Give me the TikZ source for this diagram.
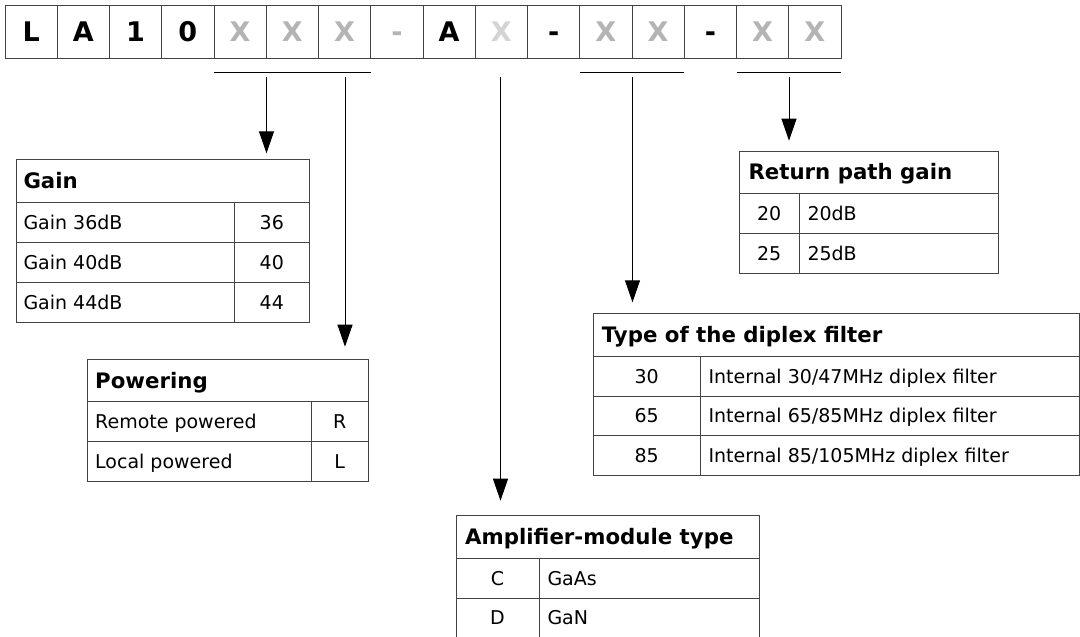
\documentclass[tikz,border=0pt]{standalone}
\usepackage{fontspec}
\setmainfont{DejaVu Sans}
\usetikzlibrary{arrows.meta}
\definecolor{xg}{HTML}{B4B4B4}
\definecolor{xl}{HTML}{D4D4D4}
\definecolor{bd}{HTML}{444444}
\begin{document}
\begin{tikzpicture}[x=1pt,y=-1pt,
  topcell/.style={draw=bd, line width=1pt, minimum width=52.25pt, minimum height=53pt, inner sep=0pt,
    text height=19.7pt, text depth=0pt, font=\fontsize{27}{30}\selectfont\bfseries},
  tbl/.style={draw=bd, line width=1pt, inner sep=0pt, anchor=north west},
  rule/.style={draw=bd, line width=1pt},
  hd/.style={anchor=base west, inner sep=0pt, font=\fontsize{21.3}{24}\selectfont\bfseries},
  bl/.style={anchor=base west, inner sep=0pt, font=\fontsize{19}{22}\selectfont},
  bc/.style={anchor=base, inner sep=0pt, font=\fontsize{19}{22}\selectfont},
  arr/.style={line width=1pt, -{Triangle[width=15pt,length=22pt]}},
  lead/.style={line width=1pt, draw=black}]
\useasboundingbox[fill=white] (0,0) rectangle (1080,637);

% top code cells
\foreach \i/\t/\c in {1/L/black, 2/A/black, 3/1/black, 4/0/black, 5/X/xg, 6/X/xg, 7/X/xg, 8/-/xg,
  9/A/black, 10/X/xl, 11/-/black, 12/X/xg, 13/X/xg, 14/-/black, 15/X/xg, 16/X/xg}
  \node[topcell, text=\c] (c\i) at ({5+52.25*(\i-0.5)}, 31.5) {\t};

% underlines
\coordinate (u1a) at (214,72.5);   \coordinate (u1b) at (370.75,72.5);
\coordinate (u2a) at (579.75,72.5); \coordinate (u2b) at (684.25,72.5);
\coordinate (u3a) at (736.5,72.5); \coordinate (u3b) at (841,72.5);
\draw[lead] (u1a) -- (u1b);
\draw[lead] (u2a) -- (u2b);
\draw[lead] (u3a) -- (u3b);

% arrow start / end points
\coordinate (gS) at (266.5,77);  \coordinate (gE) at (266.5,153.3);
\coordinate (pS) at (345,77);    \coordinate (pE) at (345,346.7);
\coordinate (aS) at (500.5,77);  \coordinate (aE) at (500.5,500.7);
\coordinate (dS) at (632.5,77);  \coordinate (dE) at (632.5,302.3);
\coordinate (rS) at (789,77);    \coordinate (rE) at (789,140.7);
\draw[arr] (gS) -- (gE);
\draw[arr] (pS) -- (pE);
\draw[arr] (aS) -- (aE);
\draw[arr] (dS) -- (dE);
\draw[arr] (rS) -- (rE);

% Gain table
\node[tbl, minimum width=293.6pt, minimum height=162.7pt] (gain) at (15.7,159.3) {};
\draw[rule] (15.7,202.3) -- (309.3,202.3);
\draw[rule] (15.7,242.3) -- (309.3,242.3);
\draw[rule] (15.7,282.3) -- (309.3,282.3);
\draw[rule] (234.3,202.3) -- (234.3,322);
\node[hd] (gainT) at (23.3,188.6) {Gain};
\node[bl] (g1) at (23.3,229.2) {Gain 36dB};
\node[bl] (g2) at (23.3,269.2) {Gain 40dB};
\node[bl] (g3) at (23.3,309.1) {Gain 44dB};
\node[bc] (g1v) at (271.8,229.2) {36};
\node[bc] (g2v) at (271.8,269.2) {40};
\node[bc] (g3v) at (271.8,309.1) {44};

% Powering table
\node[tbl, minimum width=281.6pt, minimum height=122.3pt] (pow) at (86.7,359) {};
\draw[rule] (86.7,401.7) -- (368.3,401.7);
\draw[rule] (86.7,441.7) -- (368.3,441.7);
\draw[rule] (311,401.7) -- (311,481.3);
\node[hd] (powT) at (95,388.1) {Powering};
\node[bl] (p1) at (95,428.6) {Remote powered};
\node[bl] (p2) at (95,468.4) {Local powered};
\node[bc] (p1v) at (339.65,428.6) {R};
\node[bc] (p2v) at (339.65,468.4) {L};

% Return path gain table
\node[tbl, minimum width=259pt, minimum height=122.3pt] (ret) at (739.3,151) {};
\draw[rule] (739.3,193.3) -- (998.3,193.3);
\draw[rule] (739.3,233.3) -- (998.3,233.3);
\draw[rule] (799,193.3) -- (799,273.3);
\node[hd] (retT) at (748.3,179.9) {Return path gain};
\node[bc] (r1c) at (769.15,220.2) {20};
\node[bc] (r2c) at (769.15,260.2) {25};
\node[bl] (r1) at (807.3,220.2) {20dB};
\node[bl] (r2) at (807.3,260.2) {25dB};

% Diplex filter table
\node[tbl, minimum width=485.7pt, minimum height=161.7pt] (dip) at (593.3,313.3) {};
\draw[rule] (593.3,356.7) -- (1079,356.7);
\draw[rule] (593.3,396) -- (1079,396);
\draw[rule] (593.3,435.7) -- (1079,435.7);
\draw[rule] (700,356.7) -- (700,475);
\node[hd] (dipT) at (601.7,342.8) {Type of the diplex filter};
\node[bc] (d1c) at (646.65,383.3) {30};
\node[bc] (d2c) at (646.65,422.8) {65};
\node[bc] (d3c) at (646.65,462.3) {85};
\node[bl] (d1) at (708.3,383.3) {Internal 30/47MHz diplex filter};
\node[bl] (d2) at (708.3,422.8) {Internal 65/85MHz diplex filter};
\node[bl] (d3) at (708.3,462.3) {Internal 85/105MHz diplex filter};

% Amplifier-module type table
\node[tbl, minimum width=303pt, minimum height=123.5pt] (amp) at (456,515) {};
\draw[rule] (456,558.3) -- (759,558.3);
\draw[rule] (456,598) -- (759,598);
\draw[rule] (539,558.3) -- (539,638.5);
\node[hd] (ampT) at (465,544.4) {Amplifier-module type};
\node[bc] (a1c) at (497.5,585.1) {C};
\node[bc] (a2c) at (497.5,624.9) {D};
\node[bl] (a1) at (547.3,585.1) {GaAs};
\node[bl] (a2) at (547.3,624.9) {GaN};
\end{tikzpicture}
\end{document}
